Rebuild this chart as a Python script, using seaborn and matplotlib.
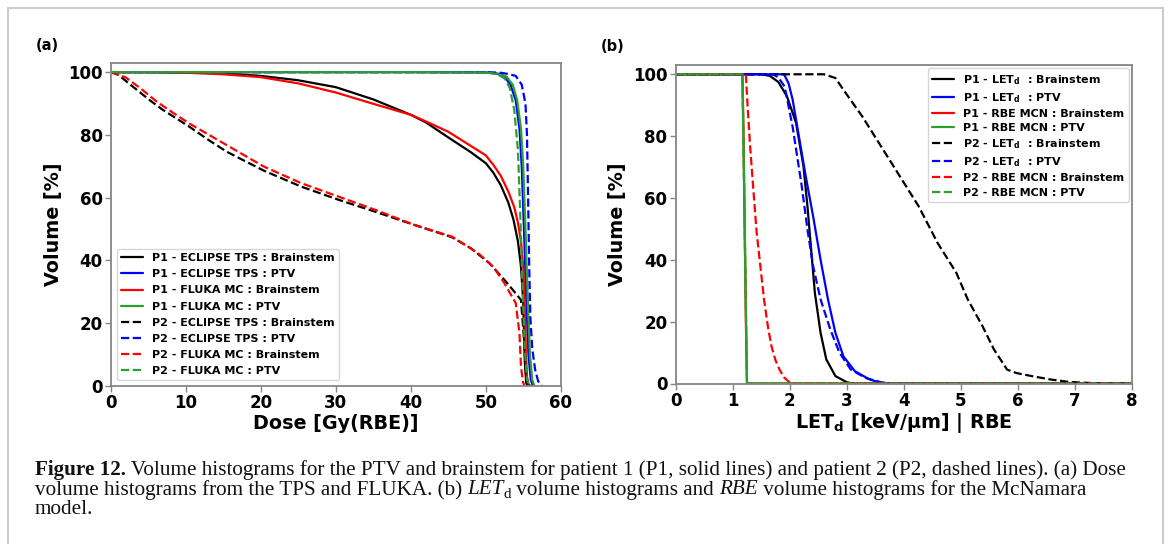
import numpy as np
import pandas as pd
import matplotlib
matplotlib.use("Agg")
import matplotlib.pyplot as plt
from matplotlib.lines import Line2D
import seaborn as sns

# ---------------- data: dose volume histograms (panel a) ----------------
dose_p1_tps_bs_x = [0, 5, 10, 15, 20, 25, 30, 35, 40, 42, 45, 48, 50, 51, 52, 53, 53.7,
                    54.3, 54.7, 55.0, 55.2, 55.4, 55.6, 56]
dose_p1_tps_bs_y = [100, 100, 99.9, 99.6, 98.8, 97.4, 95.2, 91.3, 86.4, 84.0, 79.2, 74.5,
                    71.0, 68.0, 64.0, 58.5, 53.0, 46.0, 38.0, 27.0, 8.0, 1.0, 0.2, 0]

dose_p1_tps_ptv_x = [0, 10, 20, 30, 40, 50, 51.5, 52.5, 53.3, 54.0, 54.5, 54.8, 55.1,
                     55.4, 55.7, 56.0, 56.3]
dose_p1_tps_ptv_y = [100, 100, 100, 100, 100, 99.9, 99.5, 98.5, 96, 91, 82, 70, 50,
                     28, 10, 2, 0]

dose_p1_mc_bs_x = [0, 5, 10, 15, 20, 25, 30, 35, 40, 42, 45, 48, 50, 51, 52, 53, 53.8,
                   54.3, 54.7, 55.0, 55.2, 55.35, 55.5, 55.7, 56]
dose_p1_mc_bs_y = [100, 100, 99.8, 99.3, 98.4, 96.4, 93.5, 89.9, 86.4, 84.3, 81.0, 76.5,
                   73.5, 70.5, 67.0, 62.0, 57.0, 52.0, 46.0, 38.0, 25.0, 11.5, 3, 0.5, 0]

dose_p1_mc_ptv_x = [0, 10, 20, 30, 40, 50, 51.8, 52.8, 53.6, 54.2, 54.7, 55.0, 55.3,
                    55.6, 55.9, 56.2, 56.5]
dose_p1_mc_ptv_y = [100, 100, 100, 100, 100, 99.9, 99.5, 98.5, 96, 91, 82, 70, 50,
                    28, 10, 2, 0]

dose_p2_tps_bs_x = [0, 1, 2.9, 5.2, 6.9, 10.4, 13, 15.4, 18, 20.4, 25.4, 30.4, 35.4,
                    40.5, 45.5, 48, 50.5, 52.5, 54, 54.7, 55.1, 55.4, 55.7]
dose_p2_tps_bs_y = [100, 99.1, 95.4, 91, 88, 82.7, 78.4, 74.7, 71.5, 68.6, 63.5, 59.3,
                    55.4, 51.3, 47.4, 43.9, 39.1, 33.8, 29.5, 27.4, 15, 3, 0]

dose_p2_tps_ptv_x = [0, 10, 20, 30, 40, 50, 52, 53, 54, 54.8, 55.3, 55.5, 55.65, 55.8,
                     55.95, 56.2, 56.6, 57.0, 57.5]
dose_p2_tps_ptv_y = [100, 100, 100, 100, 100, 100, 99.8, 99.4, 98.8, 96, 90, 80, 60,
                     38, 22, 12, 5, 1.5, 0]

dose_p2_mc_bs_x = [0, 1.9, 3.9, 6.1, 8.3, 10.4, 15.4, 20.4, 25.4, 30.4, 35.4, 40.5,
                   45.5, 49, 51, 52.5, 54, 54.5, 54.7, 55, 55.2]
dose_p2_mc_bs_y = [100, 98.4, 94.9, 90.6, 87, 83.7, 76.8, 69.9, 64.6, 60.3, 56, 51.3,
                   47.6, 42.3, 38, 32.7, 26.4, 16.8, 6, 1, 0]

dose_p2_mc_ptv_x = [0, 10, 20, 30, 40, 50, 51.5, 52.5, 53.2, 53.8, 54.3, 54.6, 54.9,
                    55.2, 55.5, 55.8, 56.1]
dose_p2_mc_ptv_y = [100, 100, 100, 100, 100, 99.9, 99.4, 98, 95, 88, 75, 55, 32,
                    12, 2, 0.3, 0]

# ---------------- data: LETd and RBE volume histograms (panel b) ----------------
let_p1_bs_x = [0, 1.5, 1.65, 1.8, 1.95, 2.11, 2.24, 2.31, 2.38, 2.44, 2.54, 2.64,
               2.8, 3.0, 3.1, 8]
let_p1_bs_y = [100, 100, 99.5, 97.5, 92.9, 84.3, 70.3, 57.3, 42.2, 29.3, 16.4, 7.8,
               2.4, 0.4, 0, 0]

let_p1_ptv_x = [0, 1.9, 1.98, 2.05, 2.15, 2.28, 2.41, 2.54, 2.67, 2.8, 2.94, 3.14,
                3.4, 3.6, 3.8, 8]
let_p1_ptv_y = [100, 100, 97, 91.8, 81, 67, 54, 40, 27.2, 16.4, 8.8, 4, 1.3, 0.2, 0, 0]

rbe_p1_bs_x = [0, 1.17, 1.19, 1.21, 1.23, 1.25, 8]
rbe_p1_bs_y = [100, 100, 80, 50, 20, 0, 0]

rbe_p1_ptv_x = [0, 1.17, 1.19, 1.21, 1.23, 1.25, 8]
rbe_p1_ptv_y = [100, 100, 75, 50, 25, 0, 0]

let_p2_bs_x = [0, 2.6, 2.8, 2.94, 3.27, 3.6, 3.93, 4.26, 4.59, 4.92, 5.12, 5.38, 5.58,
               5.81, 5.97, 6.24, 6.57, 6.9, 7.23, 7.5, 8]
let_p2_bs_y = [100, 100, 98.8, 95, 86.4, 76.7, 67, 57.3, 45.5, 35.8, 27.2, 18.5, 11,
               4.5, 3.4, 2.4, 1.3, 0.5, 0.2, 0, 0]

let_p2_ptv_x = [0, 1.7, 1.8, 1.91, 2.05, 2.21, 2.31, 2.41, 2.54, 2.71, 2.87, 3.07,
                3.33, 3.6, 3.8, 8]
let_p2_ptv_y = [100, 100, 99, 96, 83, 63.8, 49.8, 37.9, 27.2, 17.5, 10, 4.5, 1.8,
                0.4, 0, 0]

rbe_p2_bs_x = [0, 1.23, 1.26, 1.3, 1.36, 1.42, 1.49, 1.55, 1.62, 1.68, 1.75, 1.82,
               1.9, 1.97, 2.02, 8]
rbe_p2_bs_y = [100, 100, 90, 78, 63, 48.7, 37, 27, 18, 12, 7.5, 4.5, 2, 0.8, 0, 0]

rbe_p2_ptv_x = [0, 1.17, 1.19, 1.21, 1.23, 1.25, 8]
rbe_p2_ptv_y = [100, 100, 75, 50, 25, 0, 0]

labels_a = ["P1 - ECLIPSE TPS : Brainstem", "P1 - ECLIPSE TPS : PTV",
            "P1 - FLUKA MC : Brainstem", "P1 - FLUKA MC : PTV",
            "P2 - ECLIPSE TPS : Brainstem", "P2 - ECLIPSE TPS : PTV",
            "P2 - FLUKA MC : Brainstem", "P2 - FLUKA MC : PTV"]
labels_b = [r"P1 - LET$_\mathbf{d}$  : Brainstem", r"P1 - LET$_\mathbf{d}$  : PTV",
            "P1 - RBE MCN : Brainstem", "P1 - RBE MCN : PTV",
            r"P2 - LET$_\mathbf{d}$  : Brainstem", r"P2 - LET$_\mathbf{d}$  : PTV",
            "P2 - RBE MCN : Brainstem", "P2 - RBE MCN : PTV"]

series_a = [(dose_p1_tps_bs_x, dose_p1_tps_bs_y), (dose_p1_tps_ptv_x, dose_p1_tps_ptv_y),
            (dose_p1_mc_bs_x, dose_p1_mc_bs_y), (dose_p1_mc_ptv_x, dose_p1_mc_ptv_y),
            (dose_p2_tps_bs_x, dose_p2_tps_bs_y), (dose_p2_tps_ptv_x, dose_p2_tps_ptv_y),
            (dose_p2_mc_bs_x, dose_p2_mc_bs_y), (dose_p2_mc_ptv_x, dose_p2_mc_ptv_y)]
series_b = [(let_p1_bs_x, let_p1_bs_y), (let_p1_ptv_x, let_p1_ptv_y),
            (rbe_p1_bs_x, rbe_p1_bs_y), (rbe_p1_ptv_x, rbe_p1_ptv_y),
            (let_p2_bs_x, let_p2_bs_y), (let_p2_ptv_x, let_p2_ptv_y),
            (rbe_p2_bs_x, rbe_p2_bs_y), (rbe_p2_ptv_x, rbe_p2_ptv_y)]

colors = ["#000000", "#0000ff", "#ff0000", "#2ca02c"] * 2
styles = ["-"] * 4 + ["--"] * 4

# ---------------- figure ----------------
sns.set_style("white")
plt.rcParams["font.family"] = ["DejaVu Sans"]
plt.rcParams["mathtext.fontset"] = "dejavusans"
plt.rcParams["text.color"] = "black"
plt.rcParams["axes.labelcolor"] = "black"

W_PX, H_PX, DPI = 1170, 544, 100
fig = plt.figure(figsize=(W_PX / DPI, H_PX / DPI), dpi=DPI, facecolor="white")


def px_axes(left, top, right, bottom):
    return fig.add_axes([left / W_PX, 1 - bottom / H_PX,
                         (right - left) / W_PX, (bottom - top) / H_PX])


ax_a = px_axes(111, 62.7, 560.7, 386)
ax_b = px_axes(675.7, 65, 1132, 383.5)


def draw_panel(ax, series, labels):
    for (xs, ys), lab, col, ls in zip(series, labels, colors, styles):
        df = pd.DataFrame({"x": xs, "y": ys})
        sns.lineplot(data=df, x="x", y="y", ax=ax, color=col, linestyle=ls,
                     linewidth=1.6, label=lab, estimator=None, sort=False)
    ax.set_ylim(0, 103)
    ax.set_yticks([0, 20, 40, 60, 80, 100])
    for sp in ax.spines.values():
        sp.set_color("#858585")
        sp.set_linewidth(1.3)
    ax.tick_params(axis="both", which="major", direction="out", length=4, width=1,
                   color="#858585", labelcolor="black", labelsize=12, pad=2,
                   bottom=True, left=True)
    for lbl in ax.get_xticklabels() + ax.get_yticklabels():
        lbl.set_fontweight("bold")
    ax.set_ylabel("Volume [%]", fontsize=13.8, fontweight="bold", labelpad=4)


legend_kw = dict(prop={"weight": "bold", "size": 8}, handlelength=2.0, framealpha=0.8)

draw_panel(ax_a, series_a, labels_a)
ax_a.set_xlim(0, 60)
ax_a.set_xticks(range(0, 61, 10))
ax_a.set_xlabel("Dose [Gy(RBE)]", fontsize=13.8, fontweight="bold", labelpad=1)
ax_a.legend(loc="lower left", borderaxespad=0.5, labelspacing=0.55, **legend_kw)

draw_panel(ax_b, series_b, labels_b)
ax_b.set_xlim(0, 8)
ax_b.set_xticks(range(0, 9))
ax_b.set_xlabel(r"LET$_\mathbf{d}$ [keV/µm] | RBE", fontsize=13.8, fontweight="bold",
                labelpad=1)
ax_b.legend(loc="upper right", borderaxespad=0.3, labelspacing=0.38, **legend_kw)

# panel tags
fig.text(36 / W_PX, 1 - 50 / H_PX, "(a)", fontsize=10.5, fontweight="bold", va="baseline")
fig.text(601 / W_PX, 1 - 51 / H_PX, "(b)", fontsize=10.5, fontweight="bold", va="baseline")

# page frame around the figure block
frame_kw = dict(color="#cccccc", linewidth=1.6, transform=None)
for xs, ys in [([7.5, 7.5], [0, H_PX - 7.5]), ([7.5, 1163], [H_PX - 7.5, H_PX - 7.5]),
               ([1163, 1163], [H_PX - 7.5, 0])]:
    fig.add_artist(Line2D(xs, ys, **frame_kw))

# caption, written run by run so bold / italic pieces follow each other
renderer = fig.canvas.get_renderer()
CAP_FONT = ["Liberation Serif", "DejaVu Serif"]
CAP_SIZE = 15.2


def put_runs(x_px, base_px, runs):
    x = x_px
    for text, kw in runs:
        dy = kw.pop("dy", 0)
        size = kw.pop("size", CAP_SIZE)
        t = fig.text(x / W_PX, 1 - (base_px + dy) / H_PX, text, family=CAP_FONT,
                     fontsize=size, va="baseline", ha="left", color="#111111", **kw)
        x += t.get_window_extent(renderer).width


put_runs(35, 475, [("Figure 12.", {"weight": "bold"}),
                   (" Volume histograms for the PTV and brainstem for patient 1 (P1, solid "
                    "lines) and patient 2 (P2, dashed lines). (a) Dose", {})])
put_runs(35, 494.5, [("volume histograms from the TPS and FLUKA. (b) ", {}),
                     ("LET", {"style": "italic"}),
                     ("d", {"size": CAP_SIZE * 0.72, "dy": 3}),
                     (" volume histograms and ", {}),
                     ("RBE", {"style": "italic"}),
                     (" volume histograms for the McNamara", {})])
put_runs(35, 514, [("model.", {})])

fig.savefig("out.png", dpi=DPI, facecolor="white")
